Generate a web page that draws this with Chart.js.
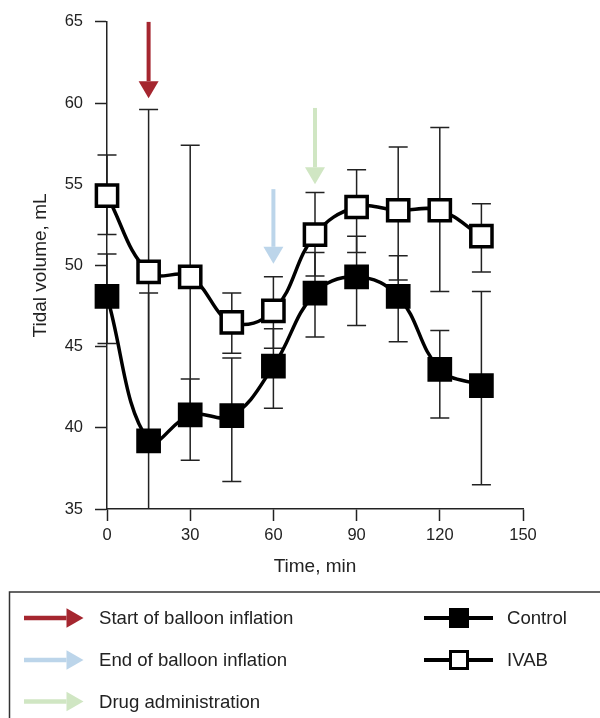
<!DOCTYPE html>
<html>
<head>
<meta charset="utf-8">
<script src="https://cdn.jsdelivr.net/npm/chart.js@4.4.0/dist/chart.umd.min.js"></script>
<style>
  html, body { margin: 0; padding: 0; background: #fff; }
  canvas { display: block; }
</style>
</head>
<body>
<canvas id="tidalChart" width="600" height="718"></canvas>
<script>
// time points (min)
const times = [0, 15, 30, 45, 60, 75, 90, 105, 120, 135];

// Control group: mean and error bar ends
const controlMean  = [48.1, 39.2, 40.8, 40.75, 43.8, 48.3, 49.3, 48.1, 43.6, 42.6];
const controlUpper = [50.7, 48.3, 43.0, 44.3, 46.1, 50.8, 51.8, 50.6, 46.0, 48.4];
const controlLower = [45.2, 30.0, 38.0, 36.7, 41.2, 45.6, 46.3, 45.3, 40.6, 36.5];

// IVAB group
const ivabMean  = [54.3, 49.6, 49.3, 46.5, 47.2, 51.9, 53.6, 53.4, 53.4, 51.8];
const ivabUpper = [56.8, 59.6, 57.4, 48.3, 49.3, 54.5, 55.9, 57.3, 58.5, 53.8];
const ivabLower = [51.9, 39.6, 41.2, 44.6, 44.9, 49.35, 50.8, 49.1, 48.4, 49.6];

// event arrows: time, start value, tip value
const eventLabels = ['Start of balloon inflation', 'End of balloon inflation', 'Drug administration'];
const eventTimes = [15, 60, 75];
const eventFrom  = [65, 54.7, 59.7];
const eventTo    = [60.3, 50.1, 55.0];
const eventColors = ['#a5262f', '#bcd5ea', '#d0e6c3'];

const xTicks = [0, 30, 60, 90, 120, 150];
const yTicks = [35, 40, 45, 50, 55, 60, 65];

const FONT = '"Liberation Sans", Arial, sans-serif';
const INK = '#222';

const toPoints = (vals) => vals.map((v, i) => ({ x: times[i], y: v }));

// draw error bars behind the lines
const errorBars = {
  id: 'errorBars',
  beforeDatasetsDraw(chart) {
    const { ctx, chartArea, scales: { x, y } } = chart;
    const sets = [[controlUpper, controlLower], [ivabUpper, ivabLower]];
    ctx.save();
    ctx.beginPath();
    ctx.rect(chartArea.left - 12, chartArea.top, chartArea.width + 24, chartArea.height);
    ctx.clip();
    ctx.strokeStyle = INK;
    ctx.lineWidth = 1.5;
    sets.forEach(([up, lo]) => {
      times.forEach((t, i) => {
        const px = x.getPixelForValue(t);
        const y1 = y.getPixelForValue(up[i]);
        const y2 = y.getPixelForValue(lo[i]);
        ctx.beginPath();
        ctx.moveTo(px, y1); ctx.lineTo(px, y2);
        ctx.moveTo(px - 9.5, y1); ctx.lineTo(px + 9.5, y1);
        ctx.moveTo(px - 9.5, y2); ctx.lineTo(px + 9.5, y2);
        ctx.stroke();
      });
    });
    ctx.restore();
  }
};

const drawArrow = (ctx, x1, y1, x2, y2, color, shaft, headLen, headHalf) => {
  const ang = Math.atan2(y2 - y1, x2 - x1);
  const bx = x2 - Math.cos(ang) * headLen;
  const by = y2 - Math.sin(ang) * headLen;
  ctx.save();
  ctx.strokeStyle = color;
  ctx.fillStyle = color;
  ctx.lineWidth = shaft;
  ctx.beginPath();
  ctx.moveTo(x1, y1); ctx.lineTo(bx, by);
  ctx.stroke();
  const nx = -Math.sin(ang) * headHalf, ny = Math.cos(ang) * headHalf;
  ctx.beginPath();
  ctx.moveTo(x2, y2);
  ctx.lineTo(bx + nx, by + ny);
  ctx.lineTo(bx - nx, by - ny);
  ctx.closePath();
  ctx.fill();
  ctx.restore();
};

const eventArrows = {
  id: 'eventArrows',
  afterDatasetsDraw(chart) {
    const { ctx, scales: { x, y } } = chart;
    eventTimes.forEach((t, i) => {
      const px = x.getPixelForValue(t);
      drawArrow(ctx, px, y.getPixelForValue(eventFrom[i]), px, y.getPixelForValue(eventTo[i]),
        eventColors[i], 4, 17, 10);
    });
  }
};

const boxLegend = {
  id: 'boxLegend',
  afterDraw(chart) {
    const { ctx } = chart;
    ctx.save();
    ctx.strokeStyle = '#333';
    ctx.lineWidth = 1.5;
    ctx.strokeRect(9.5, 592, 620, 160);
    ctx.font = '18.6px ' + FONT;
    ctx.textBaseline = 'middle';
    const rows = [618, 660, 701.5];
    eventLabels.forEach((label, i) => {
      drawArrow(ctx, 24, rows[i], 83.5, rows[i], eventColors[i], 4.7, 17, 9.7);
      ctx.fillStyle = INK;
      ctx.fillText(label, 99, rows[i] + 1);
    });
    chart.data.datasets.forEach((ds, i) => {
      const yy = rows[i];
      ctx.strokeStyle = '#000';
      ctx.lineWidth = 4;
      ctx.beginPath();
      ctx.moveTo(424, yy); ctx.lineTo(493, yy);
      ctx.stroke();
      ctx.fillStyle = ds.pointBackgroundColor;
      ctx.fillRect(449.5, yy - 9.5, 19, 19);
      ctx.lineWidth = 3;
      ctx.strokeRect(450.5, yy - 8.5, 17, 17);
      ctx.fillStyle = INK;
      ctx.fillText(ds.label, 507, yy + 1);
    });
    ctx.restore();
  }
};

new Chart(document.getElementById('tidalChart'), {
  type: 'line',
  data: {
    datasets: [
      {
        label: 'Control',
        data: toPoints(controlMean),
        clip: false,
        borderColor: '#000',
        borderWidth: 3.5,
        tension: 0.4,
        pointStyle: 'rect',
        pointRadius: 15,
        pointBorderWidth: 3.5,
        pointBorderColor: '#000',
        pointBackgroundColor: '#000'
      },
      {
        label: 'IVAB',
        data: toPoints(ivabMean),
        clip: false,
        borderColor: '#000',
        borderWidth: 3.5,
        tension: 0.4,
        pointStyle: 'rect',
        pointRadius: 15,
        pointBorderWidth: 3.5,
        pointBorderColor: '#000',
        pointBackgroundColor: '#fff'
      }
    ]
  },
  options: {
    responsive: false,
    animation: false,
    layout: { padding: { left: 0, top: 21, right: 77, bottom: 134 } },
    plugins: { legend: { display: false }, tooltip: { enabled: false } },
    scales: {
      x: {
        type: 'linear',
        min: xTicks[0],
        max: xTicks[xTicks.length - 1],
        afterBuildTicks: (s) => { s.ticks = xTicks.map((v) => ({ value: v })); },
        afterFit: (s) => { s.height = 75; },
        grid: { drawOnChartArea: false, tickLength: 12, tickColor: INK, tickWidth: 1.5 },
        border: { color: INK, width: 1.5 },
        ticks: { color: INK, font: { family: FONT, size: 16.5 }, padding: 5, maxRotation: 0 },
        title: { display: true, text: 'Time, min', color: INK, font: { family: FONT, size: 19 }, padding: { top: 0, bottom: 6 } }
      },
      y: {
        min: yTicks[0],
        max: yTicks[yTicks.length - 1],
        afterBuildTicks: (s) => { s.ticks = yTicks.map((v) => ({ value: v })); },
        afterFit: (s) => { s.width = 107; },
        grid: { drawOnChartArea: false, tickLength: 12, tickColor: INK, tickWidth: 1.5 },
        border: { color: INK, width: 1.5 },
        ticks: { color: INK, font: { family: FONT, size: 16.5 }, padding: 12 },
        title: { display: true, text: 'Tidal volume, mL', color: INK, font: { family: FONT, size: 19 }, padding: { top: 29, bottom: 0 } }
      }
    }
  },
  plugins: [errorBars, eventArrows, boxLegend]
});
</script>
</body>
</html>
